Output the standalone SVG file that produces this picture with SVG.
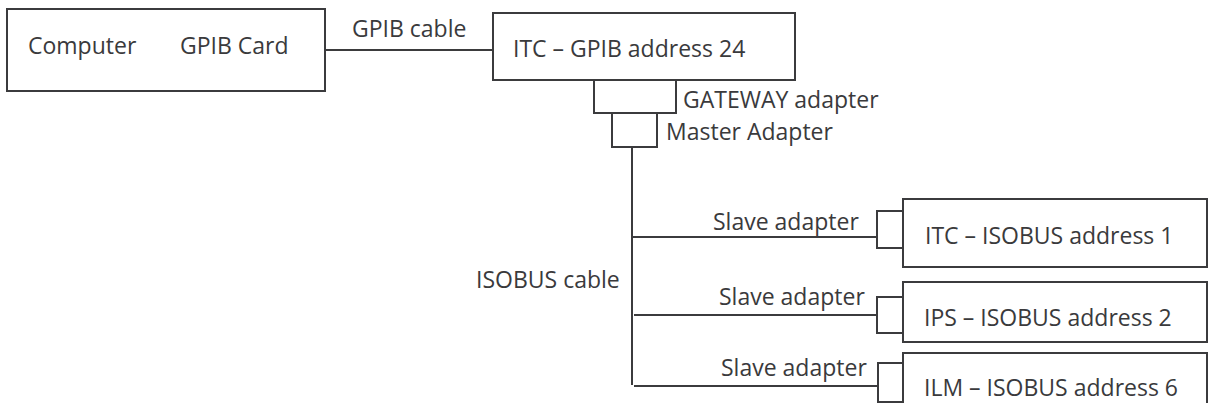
<svg xmlns="http://www.w3.org/2000/svg" width="1209" height="403" viewBox="0 0 1209 403">
<style>
.box{fill:#fff;stroke:#3b3b3d;stroke-width:2}
.ln{stroke:#3b3b3d;stroke-width:2;fill:none}
text{font-family:"Open Sans","Noto Sans",sans-serif;font-size:23px;fill:#3a3a3c}
</style>
<rect width="1209" height="403" fill="#fff"/>
<g id="connectors">
<line class="ln" x1="325" y1="50" x2="493" y2="50"/>
<line class="ln" x1="632" y1="147" x2="632" y2="385"/>
<line class="ln" x1="632" y1="237" x2="877" y2="237"/>
<line class="ln" x1="634" y1="315" x2="877" y2="315"/>
<line class="ln" x1="634" y1="386" x2="878" y2="386"/>
<line class="ln" x1="903" y1="386" x2="908" y2="386"/>
<text x="352" y="37">GPIB cable</text>
<text x="476" y="288">ISOBUS cable</text>
</g>
<g id="computer">
<rect class="box" x="7" y="9" width="318" height="82"/>
<text x="28" y="54">Computer</text>
<text x="180" y="54">GPIB Card</text>
</g>
<g id="itc-gpib">
<rect class="box" x="493" y="13" width="302" height="67"/>
<text x="513" y="57">ITC – GPIB address 24</text>
</g>
<g id="gateway-adapter">
<rect class="box" x="594" y="80" width="82" height="33"/>
<text x="683" y="108">GATEWAY adapter</text>
</g>
<g id="master-adapter">
<rect class="box" x="612" y="113" width="45" height="34"/>
<text x="666" y="140">Master Adapter</text>
</g>
<g id="slave-adapter-1">
<rect class="box" x="877" y="211" width="26" height="37"/>
<text x="713" y="230">Slave adapter</text>
</g>
<g id="itc-isobus">
<rect class="box" x="903" y="199" width="304" height="68"/>
<text x="925" y="244">ITC – ISOBUS address 1</text>
</g>
<g id="slave-adapter-2">
<rect class="box" x="877" y="297" width="26" height="36"/>
<text x="719" y="305">Slave adapter</text>
</g>
<g id="ips-isobus">
<rect class="box" x="903" y="282" width="304" height="60"/>
<text x="924" y="326">IPS – ISOBUS address 2</text>
</g>
<g id="slave-adapter-3">
<rect class="box" x="878" y="363" width="25" height="39"/>
<text x="721" y="376">Slave adapter</text>
</g>
<g id="ilm-isobus">
<rect class="box" x="903" y="353" width="304" height="70"/>
<text x="924" y="396">ILM – ISOBUS address 6</text>
</g>
</svg>
